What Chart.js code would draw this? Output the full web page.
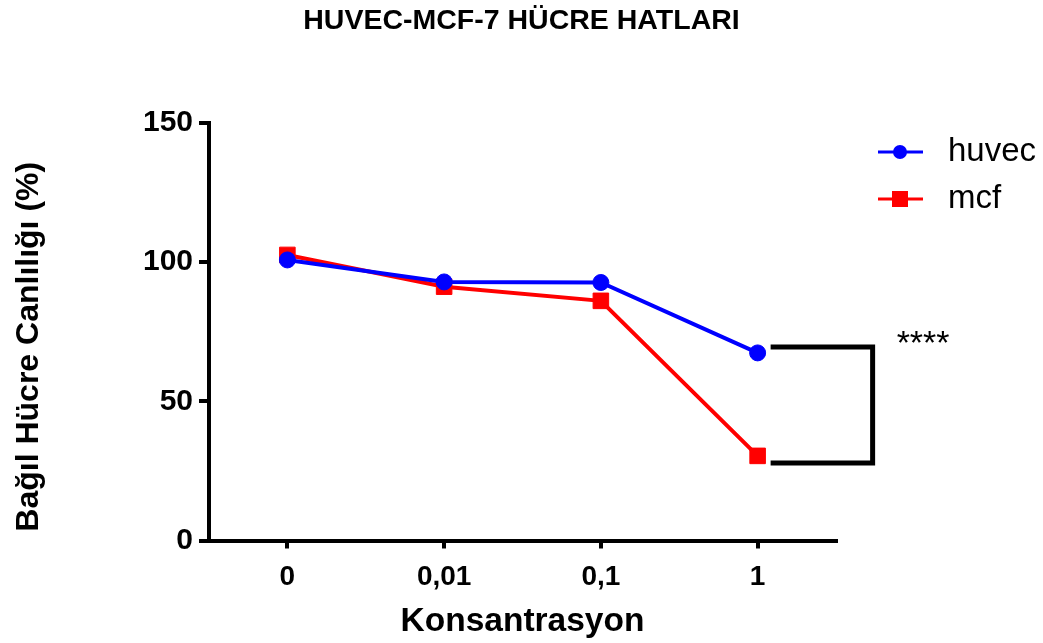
<!DOCTYPE html>
<html>
<head>
<meta charset="utf-8">
<script src="https://cdn.jsdelivr.net/npm/chart.js@4.4.1/dist/chart.umd.min.js"></script>
<style>
  html, body { margin: 0; padding: 0; background: #fff; }
  #wrap { width: 1043px; height: 643px; }
</style>
</head>
<body>
<div id="wrap"><canvas id="myChart"></canvas></div>
<script>
// concentrations on the x axis
const konsantrasyon = ['0', '0,01', '0,1', '1'];

// relative viability (%) per cell line
const huvec = [100.8, 92.9, 92.7, 67.4];
const mcf = [102.6, 91.2, 86.1, 30.4];

const yTicks = [0, 50, 100, 150];

const FONT = "'Liberation Sans', Arial, Helvetica, sans-serif";

// page title across the whole canvas, y title a bit lower than the axis centre
const headings = {
  id: 'headings',
  afterDraw(chart, args, opts) {
    const ctx = chart.ctx;
    const area = chart.chartArea;
    ctx.save();
    ctx.fillStyle = '#000';
    ctx.textAlign = 'center';
    ctx.textBaseline = 'middle';
    ctx.font = 'bold 28.5px ' + FONT;
    ctx.fillText(opts.title, chart.width / 2, 21);
    ctx.translate(29, (area.top + area.bottom) / 2 + 15);
    ctx.rotate(-Math.PI / 2);
    ctx.font = 'bold 32px ' + FONT;
    ctx.fillText(opts.yTitle, 0, 0);
    ctx.restore();
  }
};

// line + marker legend in the top right corner
const sideLegend = {
  id: 'sideLegend',
  afterDraw(chart) {
    const ctx = chart.ctx;
    const x0 = chart.chartArea.right + 42;
    const rows = [152, 199];
    ctx.save();
    chart.data.datasets.forEach((ds, i) => {
      const y = rows[i];
      ctx.strokeStyle = ds.borderColor;
      ctx.lineWidth = 3;
      ctx.beginPath();
      ctx.moveTo(x0, y);
      ctx.lineTo(x0 + 45, y);
      ctx.stroke();
      ctx.fillStyle = ds.borderColor;
      if (ds.pointStyle === 'rect') {
        ctx.fillRect(x0 + 14, y - 8, 16, 16);
      } else {
        ctx.beginPath();
        ctx.arc(x0 + 22, y, 7, 0, Math.PI * 2);
        ctx.fill();
      }
      ctx.fillStyle = '#000';
      ctx.font = '33px ' + FONT;
      ctx.textBaseline = 'middle';
      ctx.textAlign = 'left';
      ctx.fillText(ds.label, x0 + 70, y);
    });
    ctx.restore();
  }
};

// significance bracket between the two lines at the last concentration
const sigBracket = {
  id: 'sigBracket',
  afterDatasetsDraw(chart, args, opts) {
    const ctx = chart.ctx;
    const xs = chart.scales.x, ys = chart.scales.y;
    const xp = xs.getPixelForValue(opts.index);
    const yTop = ys.getPixelForValue(opts.top);
    const yBot = ys.getPixelForValue(opts.bottom);
    const x1 = xp + 13, x2 = xp + 115;
    ctx.save();
    ctx.strokeStyle = '#000';
    ctx.lineWidth = 5;
    ctx.lineJoin = 'miter';
    ctx.beginPath();
    ctx.moveTo(x1, yTop);
    ctx.lineTo(x2, yTop);
    ctx.lineTo(x2, yBot);
    ctx.lineTo(x1, yBot);
    ctx.stroke();
    ctx.fillStyle = '#000';
    ctx.font = '34px ' + FONT;
    ctx.textAlign = 'left';
    ctx.textBaseline = 'alphabetic';
    ctx.fillText(opts.text, x2 + 24, yTop + 7);
    ctx.restore();
  }
};

const ctx = document.getElementById('myChart').getContext('2d');
const chart = new Chart(ctx, {
  type: 'line',
  data: {
    labels: konsantrasyon,
    datasets: [
      {
        label: 'huvec',
        data: huvec,
        borderColor: '#0000ff',
        backgroundColor: '#0000ff',
        borderWidth: 4,
        pointStyle: 'circle',
        pointRadius: 8,
        pointBorderWidth: 1,
        tension: 0
      },
      {
        label: 'mcf',
        data: mcf,
        borderColor: '#ff0000',
        backgroundColor: '#ff0000',
        borderWidth: 4,
        pointStyle: 'rect',
        pointRadius: 11,
        pointBorderWidth: 1,
        tension: 0
      }
    ]
  },
  options: {
    responsive: true,
    maintainAspectRatio: false,
    animation: false,
    layout: { padding: { top: 123, right: 207, bottom: 0, left: 0 } },
    plugins: {
      legend: { display: false },
      tooltip: { enabled: false },
      title: { display: false },
      headings: {
        title: 'HUVEC-MCF-7 HÜCRE HATLARI',
        yTitle: 'Bağıl Hücre Canlılığı (%)'
      },
      sigBracket: { index: 3, top: 69.5, bottom: 27.8, text: '****' }
    },
    scales: {
      x: {
        offset: true,
        grid: {
          display: true,
          offset: false,
          drawOnChartArea: false,
          drawTicks: true,
          tickLength: 8,
          lineWidth: 4,
          color: '#000'
        },
        border: { display: true, width: 4, color: '#000' },
        ticks: {
          color: '#000',
          padding: 12,
          font: { family: FONT, size: 28, weight: 'bold' }
        },
        title: {
          display: true,
          text: 'Konsantrasyon',
          color: '#000',
          font: { family: FONT, size: 33.5, weight: 'bold' },
          padding: { top: 0, bottom: 1 }
        },
        afterFit(scale) { scale.height = 102.5; }
      },
      y: {
        min: 0,
        max: 150,
        afterBuildTicks(scale) { scale.ticks = yTicks.map(v => ({ value: v })); },
        grid: {
          display: true,
          drawOnChartArea: false,
          drawTicks: true,
          tickLength: 10,
          lineWidth: 4,
          color: '#000'
        },
        border: { display: true, width: 4, color: '#000' },
        ticks: {
          color: '#000',
          padding: 6,
          font: { family: FONT, size: 30, weight: 'bold' }
        },
        afterFit(scale) { scale.width = 209; }
      }
    }
  },
  plugins: [sigBracket, sideLegend, headings]
});
</script>
</body>
</html>
